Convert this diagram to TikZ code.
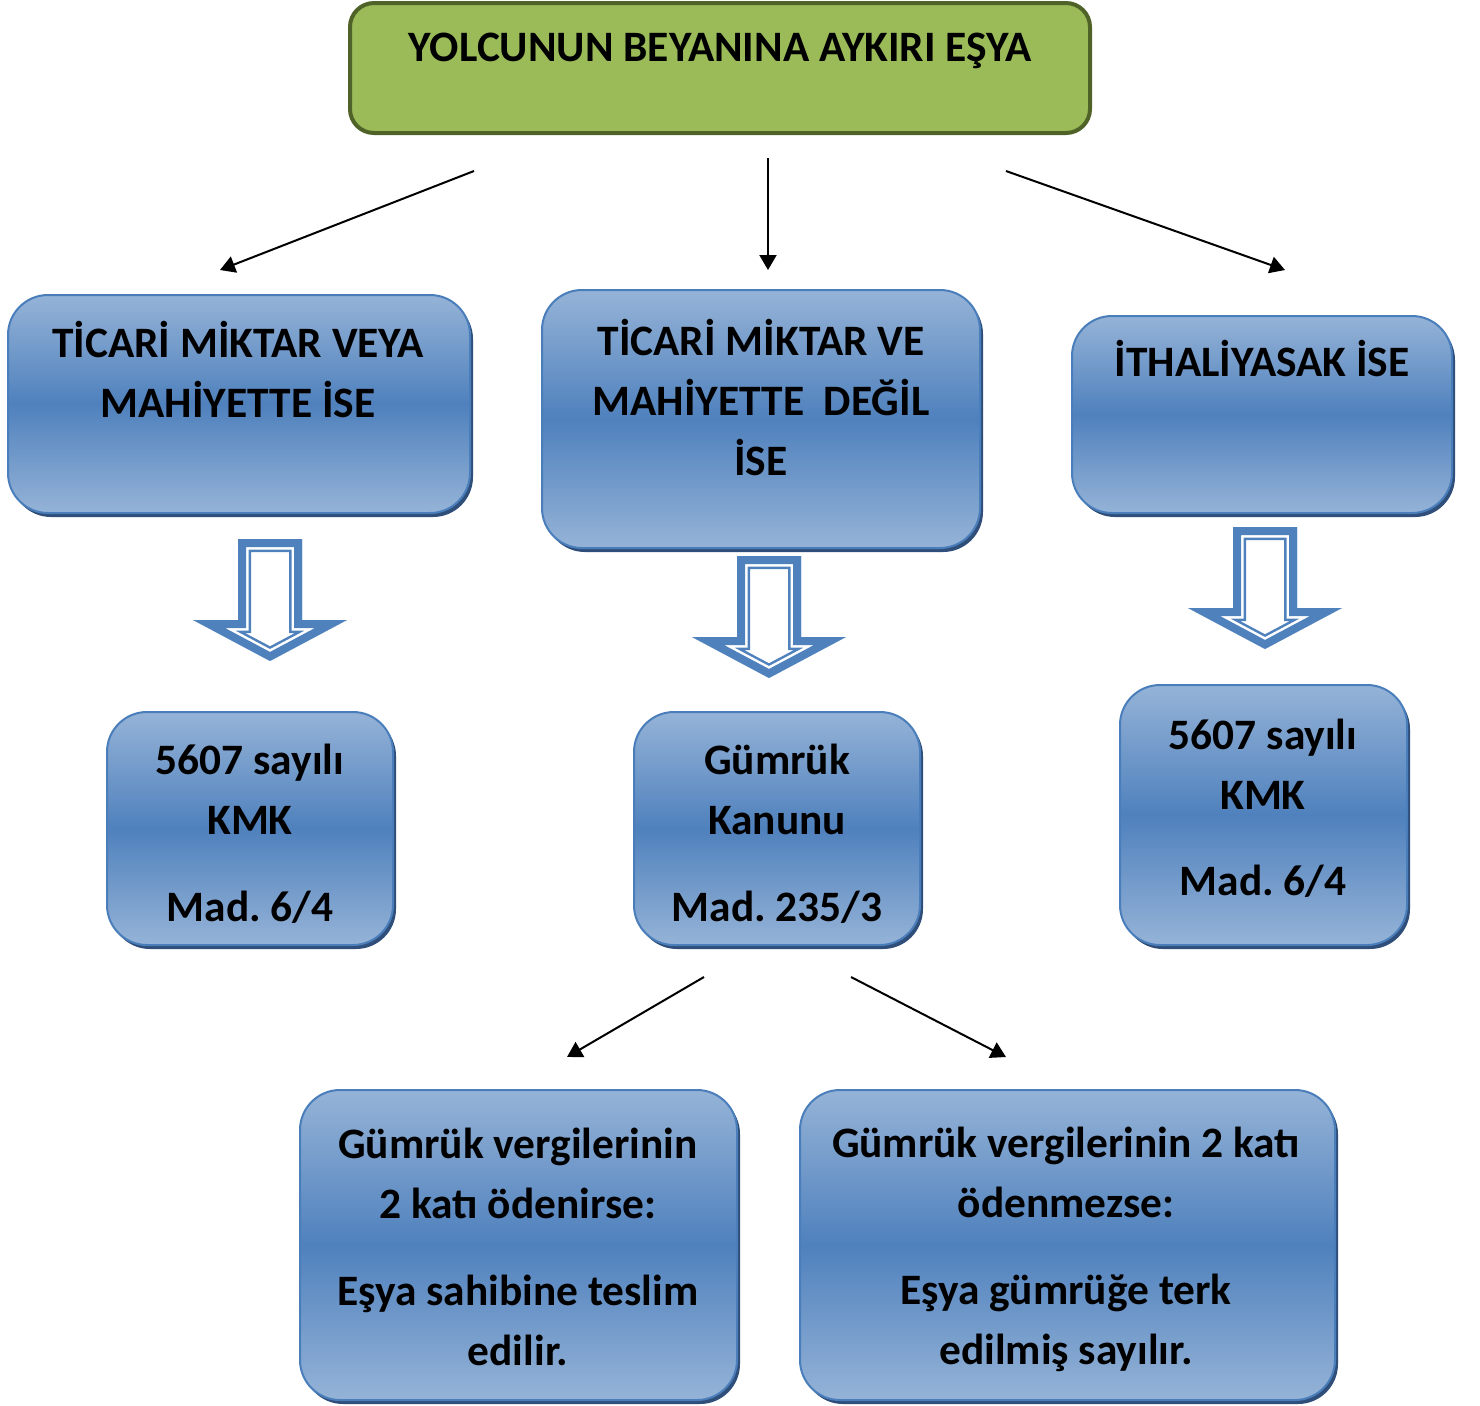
\documentclass[tikz,border=0pt]{standalone}
\usepackage{fontspec}
\setmainfont{Carlito}
\usetikzlibrary{arrows.meta,calc,shadows}

\definecolor{acikmavi}{HTML}{95B3D7}
\definecolor{koyumavi}{HTML}{4F81BD}
\definecolor{kenarmavi}{HTML}{4A7EBB}
\definecolor{golge}{HTML}{2F4F7A}
\definecolor{yesil}{HTML}{9BBB59}
\definecolor{koyuyesil}{HTML}{4F6228}

% blok ok govdesi (ust orta noktaya gore)
\newcommand\blokyol{(-32,0) -- (-32,81) -- (-77,81) -- (0,122) -- (77,81) -- (32,81) -- (32,0) -- cycle}

\tikzset{
  kutu/.style={draw=kenarmavi, line width=1pt, rounded corners=20pt,
               top color=acikmavi, bottom color=acikmavi, middle color=koyumavi,
               drop shadow={shadow xshift=1.5pt, shadow yshift=-2pt, fill=golge, opacity=1}},
  yazi/.style={font=\fontsize{21.7}{30}\selectfont\bfseries\frenchspacing, align=center, inner sep=0pt},
  ok/.style={line width=1pt, -{Triangle[length=7.5pt,width=8.5pt]}},
  blok/.pic={
    \fill[white] \blokyol;
    \begin{scope}
      \clip \blokyol;
      \draw[koyumavi, line width=13pt] \blokyol;
      \draw[white, line width=10.5pt] \blokyol;
      \draw[koyumavi, line width=8pt] \blokyol;
    \end{scope}
  }
}

\begin{document}
\begin{tikzpicture}[x=0.5pt, y=-0.5pt]
  \useasboundingbox (0,0) rectangle (1480,1405);

  % --- kutular ---
  \node[draw=koyuyesil, line width=2pt, fill=yesil, rounded corners=12pt,
        minimum width=370pt, minimum height=65pt] (yolcu) at (720,68) {};
  \node[kutu, minimum width=231pt, minimum height=109pt] (ticari) at (239,404) {};
  \node[kutu, minimum width=219pt, minimum height=129pt] (degil) at (761,419) {};
  \node[kutu, minimum width=190pt, minimum height=98.5pt] (yasak) at (1262,414.5) {};
  \node[kutu, minimum width=143pt, minimum height=116.5pt] (kmk1) at (250,828.5) {};
  \node[kutu, minimum width=143pt, minimum height=116.5pt] (gk) at (777,828.5) {};
  \node[kutu, minimum width=143.5pt, minimum height=130pt] (kmk2) at (1263.5,815) {};
  \node[kutu, minimum width=218.5pt, minimum height=155pt] (oden) at (518.5,1245) {};
  \node[kutu, minimum width=267.5pt, minimum height=155pt] (odenmez) at (1067.5,1245) {};

  % --- yazilar ---
  \node[yazi] (yolcu-y) at (720,51) {YOLCUNUN BEYANINA AYKIRI EŞYA};
  \node[yazi] (ticari-y) at (238,369) {TİCARİ MİKTAR VEYA\\MAHİYETTE İSE};
  \node[yazi] (degil-y) at (761,397) {TİCARİ MİKTAR VE\\MAHİYETTE\ \ DEĞİL\\İSE};
  \node[yazi] (yasak-y) at (1262,358) {İTHALİYASAK İSE};
  \node[yazi] (kmk1-y) at (250,833.5) {5607 sayılı\\KMK\\[13.5pt]Mad. 6/4};
  \node[yazi] (gk-y) at (777,833.5) {Gümrük\\Kanunu\\[13.5pt]Mad. 235/3};
  \node[yazi] (kmk2-y) at (1263,808) {5607 sayılı\\KMK\\[13pt]Mad. 6/4};
  \node[yazi] (oden-y) at (518,1246.5)
    {Gümrük vergilerinin\\2 katı ödenirse:\\[13.5pt]Eşya sahibine teslim\\edilir.};
  \node[yazi] (odenmez-y) at (1066,1249.5)
    {Gümrük vergilerinin 2 katı\\ödenmezse:\\[13.5pt]Eşya gümrüğe terk\\edilmiş sayılır.};

  % --- ince oklar ---
  \coordinate (o1a) at (474,171);  \coordinate (o1b) at (220,270);
  \coordinate (o2a) at (768,158);  \coordinate (o2b) at (768,270);
  \coordinate (o3a) at (1006,171); \coordinate (o3b) at (1285,270);
  \coordinate (o4a) at (704,977);  \coordinate (o4b) at (567,1057);
  \coordinate (o5a) at (851,977);  \coordinate (o5b) at (1006,1057);
  \foreach \a/\b in {o1a/o1b, o2a/o2b, o3a/o3b, o4a/o4b, o5a/o5b}
    \draw[ok] (\a) -- (\b);

  % --- blok oklar ---
  \foreach \px/\py in {270/539, 769/556, 1265/527}
    \pic at (\px,\py) {blok};
\end{tikzpicture}
\end{document}
